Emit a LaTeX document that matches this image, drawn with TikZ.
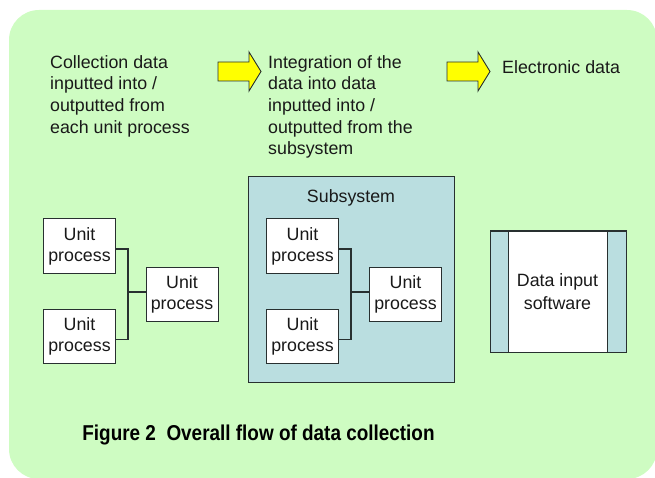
\documentclass[tikz,border=0pt]{standalone}
\usepackage{fontspec}
\setmainfont{Liberation Sans}
\begin{document}
\begin{tikzpicture}[x=1pt,y=-1pt,
  txt/.style={font=\fontsize{17.8}{21.7}\selectfont, text=ink, inner sep=0pt, align=left, anchor=north west},
  unitbox/.style={draw=edge, line width=1pt, fill=white, minimum width=72pt, minimum height=54pt,
    inner sep=0pt, align=center, font=\fontsize{17.8}{21}\selectfont, text=ink},
  link/.style={draw=edge, line width=1.1pt},
  blockarrow/.style={draw=edge, line width=0.9pt, fill=arrowyellow, line join=miter}]
\definecolor{bggreen}{RGB}{206,252,194}
\definecolor{subblue}{RGB}{186,222,224}
\definecolor{arrowyellow}{RGB}{255,255,0}
\definecolor{edge}{RGB}{40,48,48}
\definecolor{ink}{RGB}{25,25,25}
\useasboundingbox (0,0) rectangle (655,478);

% background panel
\fill[bggreen, rounded corners=30pt] (9,10) rectangle (657,479);

% stage descriptions
\node[txt] (t1) at (50,55) {Collection data\\inputted into /\\outputted from\\each unit process};
\node[txt] (t2) at (268,55) {Integration of the\\data into data\\inputted into /\\outputted from the\\subsystem};
\node[txt, anchor=base west] (t3) at (502,74) {Electronic data};

% block arrows between the stages
\draw[blockarrow] (218,62) -- (249,62) -- (249,52) -- (261,71.5) -- (249,91) -- (249,81) -- (218,81) -- cycle;
\draw[blockarrow] (447,62) -- (478,62) -- (478,52) -- (490,71.5) -- (478,91) -- (478,81) -- (447,81) -- cycle;

% unit processes
\node[unitbox] (l1) at (79.5,246) {Unit\\process};
\node[unitbox] (l2) at (79.5,336.5) {Unit\\process};
\node[unitbox] (l3) at (182,294.5) {Unit\\process};
\coordinate (lj) at (128,292);
\draw[link] ([yshift=-3pt]l1.east) -| (lj) |- ([yshift=-3pt]l2.east);
\draw[link] (lj) -- (lj -| l3.west);

% subsystem
\node[draw=edge, line width=1pt, fill=subblue, minimum width=206pt, minimum height=205pt, inner sep=0pt] (sub) at (351,279.5) {};
\node[font=\fontsize{17.8}{21}\selectfont, text=ink, anchor=base] (subl) at (351,203) {Subsystem};
\node[unitbox] (s1) at (302.5,246) {Unit\\process};
\node[unitbox] (s2) at (302.5,336.5) {Unit\\process};
\node[unitbox] (s3) at (405.5,294.5) {Unit\\process};
\coordinate (sj) at (351,292);
\draw[link] ([yshift=-3pt]s1.east) -| (sj) |- ([yshift=-3pt]s2.east);
\draw[link] (sj) -- (sj -| s3.west);

% data input software
\node[draw=edge, line width=1pt, fill=subblue, minimum width=136pt, minimum height=121pt, inner sep=0pt] (sw) at (558,291.5) {};
\node[draw=edge, line width=1pt, fill=white, minimum width=99pt, minimum height=121pt, inner sep=0pt,
  align=center, font=\fontsize{17.8}{23}\selectfont, text=ink] (swi) at (557.5,291.5) {Data input\\software};

% caption
\node[font=\fontsize{21.5}{24}\selectfont\bfseries, text=black, xscale=0.88, anchor=base] (cap) at (258.5,440) {Figure 2\ \ Overall flow of data collection};
\end{tikzpicture}
\end{document}
